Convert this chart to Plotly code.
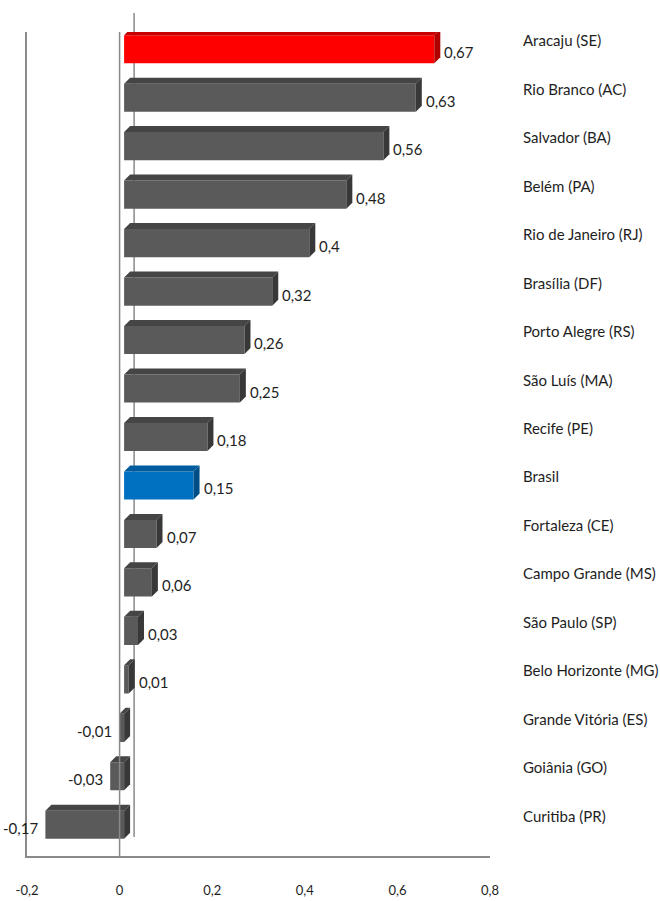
import plotly.graph_objects as go

# ---------------- data ----------------
categories = ["Aracaju (SE)", "Rio Branco (AC)", "Salvador (BA)", "Belém (PA)",
              "Rio de Janeiro (RJ)", "Brasília (DF)", "Porto Alegre (RS)", "São Luís (MA)",
              "Recife (PE)", "Brasil", "Fortaleza (CE)", "Campo Grande (MS)",
              "São Paulo (SP)", "Belo Horizonte (MG)", "Grande Vitória (ES)",
              "Goiânia (GO)", "Curitiba (PR)"]
values = [0.67, 0.63, 0.56, 0.48, 0.40, 0.32, 0.26, 0.25, 0.18, 0.15,
          0.07, 0.06, 0.03, 0.01, -0.01, -0.03, -0.17]
value_labels = ["0,67", "0,63", "0,56", "0,48", "0,4", "0,32", "0,26", "0,25", "0,18",
                "0,15", "0,07", "0,06", "0,03", "0,01", "-0,01", "-0,03", "-0,17"]
tick_vals = [-0.2, 0.0, 0.2, 0.4, 0.6, 0.8]
tick_text = ["-0,2", "0", "0,2", "0,4", "0,6", "0,8"]

# ---------------- style ----------------
W, H = 660, 901
ML, MR, MT, MB = 27, 170, 32, 45
PW, PH = W - ML - MR, H - MT - MB
XMIN, XMAX = -0.2, 0.8
n = len(categories)
px_per_x = PW / (XMAX - XMIN)
px_per_y = PH / n

FRONT_DX, FRONT_DY = 4.5, 7      # shift of bar front faces (px, right/up)
DEPTH_DX, DEPTH_DY = 6, 6        # bar depth (px)
BACK_DX, BACK_DY = 14.5, 19      # back-wall zero line shift
BAR_W = 0.58

FONT = "Lato, Roboto, sans-serif"
TXT = "#1e1e1e"
LINE = "#8a8a8a"

def colors_for(cat):
    if cat == "Aracaju (SE)":
        return "#ff0000", "#c80000", "#b00000"
    if cat == "Brasil":
        return "#0070c0", "#005c9e", "#004e87"
    return "#5a5a5a", "#454545", "#383838"

pos = [n - 1 - i for i in range(n)]
front_cols = [colors_for(c)[0] for c in categories]

fig = go.Figure()

# dummy trace so the framed (x, y) subplot exists
fig.add_trace(go.Scatter(x=[None], y=[None], xaxis="x", yaxis="y",
                         showlegend=False, hoverinfo="skip"))

# front faces of the bars
fig.add_trace(go.Bar(x=values, y=pos, orientation="h", width=BAR_W,
                     marker=dict(color=front_cols, line=dict(width=0)),
                     xaxis="x2", yaxis="y2", showlegend=False,
                     hovertext=categories, hoverinfo="text+x"))

ddx = DEPTH_DX / px_per_x
ddy = DEPTH_DY / px_per_y
for c, v, p in zip(categories, values, pos):
    _, top_c, side_c = colors_for(c)
    x0, x1 = min(0, v), max(0, v)
    yt, yb = p + BAR_W / 2, p - BAR_W / 2
    fig.add_trace(go.Scatter(x=[x0, x1, x1 + ddx, x0 + ddx, x0],
                             y=[yt, yt, yt + ddy, yt + ddy, yt],
                             fill="toself", fillcolor=top_c, mode="lines",
                             line=dict(width=0, color=top_c),
                             xaxis="x2", yaxis="y2", showlegend=False, hoverinfo="skip"))
    fig.add_trace(go.Scatter(x=[x1, x1, x1 + ddx, x1 + ddx, x1],
                             y=[yb, yt, yt + ddy, yb + ddy, yb],
                             fill="toself", fillcolor=side_c, mode="lines",
                             line=dict(width=0, color=side_c),
                             xaxis="x2", yaxis="y2", showlegend=False, hoverinfo="skip"))

annotations = []
for c, v, p, lab in zip(categories, values, pos, value_labels):
    if v >= 0:
        annotations.append(dict(x=v, y=p, xref="x2", yref="y2", text=lab,
                                showarrow=False, xanchor="left", yanchor="middle",
                                xshift=DEPTH_DX + 2, yshift=-3,
                                font=dict(family=FONT, size=15, color=TXT)))
    else:
        annotations.append(dict(x=v, y=p, xref="x2", yref="y2", text=lab,
                                showarrow=False, xanchor="right", yanchor="middle",
                                xshift=-5, yshift=-3,
                                font=dict(family=FONT, size=15, color=TXT)))
    annotations.append(dict(x=(521 - ML) / PW, y=p, xref="paper", yref="y2", text=c,
                            showarrow=False, xanchor="left", yanchor="middle",
                            yshift=9, font=dict(family=FONT, size=15, color=TXT)))

shapes = [
    # back-wall zero line (behind bars)
    dict(type="line", xref="x", yref="paper",
         x0=BACK_DX / px_per_x, x1=BACK_DX / px_per_x,
         y0=BACK_DY / PH, y1=1 + BACK_DY / PH,
         line=dict(color=LINE, width=1.5), layer="below"),
    # front zero line
    dict(type="line", xref="x", yref="paper", x0=0, x1=0, y0=0, y1=1,
         line=dict(color=LINE, width=1.5), layer="above"),
]

fig.update_layout(
    width=W, height=H,
    margin=dict(l=ML, r=MR, t=MT, b=MB, pad=0, autoexpand=False),
    paper_bgcolor="white", plot_bgcolor="rgba(0,0,0,0)",
    font=dict(family=FONT, size=13, color=TXT),
    showlegend=False,
    xaxis=dict(domain=[0, 1], range=[XMIN, XMAX], tickvals=tick_vals, ticktext=tick_text,
               ticks="outside", ticklen=22, tickcolor="rgba(0,0,0,0)", automargin=False,
               showgrid=False, zeroline=False, showline=True, linecolor=LINE, linewidth=1.5,
               tickfont=dict(family=FONT, size=13, color=TXT), anchor="y", fixedrange=True),
    yaxis=dict(domain=[0, 1], range=[0, 1], showticklabels=False, ticks="", automargin=False,
               showgrid=False, zeroline=False, showline=True, linecolor=LINE, linewidth=1.5,
               anchor="x", fixedrange=True),
    xaxis2=dict(domain=[FRONT_DX / PW, 1], range=[XMIN, XMAX - FRONT_DX / px_per_x],
                visible=False, anchor="y2", fixedrange=True, automargin=False),
    yaxis2=dict(domain=[FRONT_DY / PH, 1], range=[-0.5, -0.5 + (PH - FRONT_DY) / px_per_y],
                visible=False, anchor="x2", fixedrange=True, automargin=False),
    annotations=annotations,
    shapes=shapes,
)

fig.write_html("out.html", config={"displayModeBar": False},
               post_script="document.body.style.margin='0';"
                           "document.body.style.overflow='hidden';")
